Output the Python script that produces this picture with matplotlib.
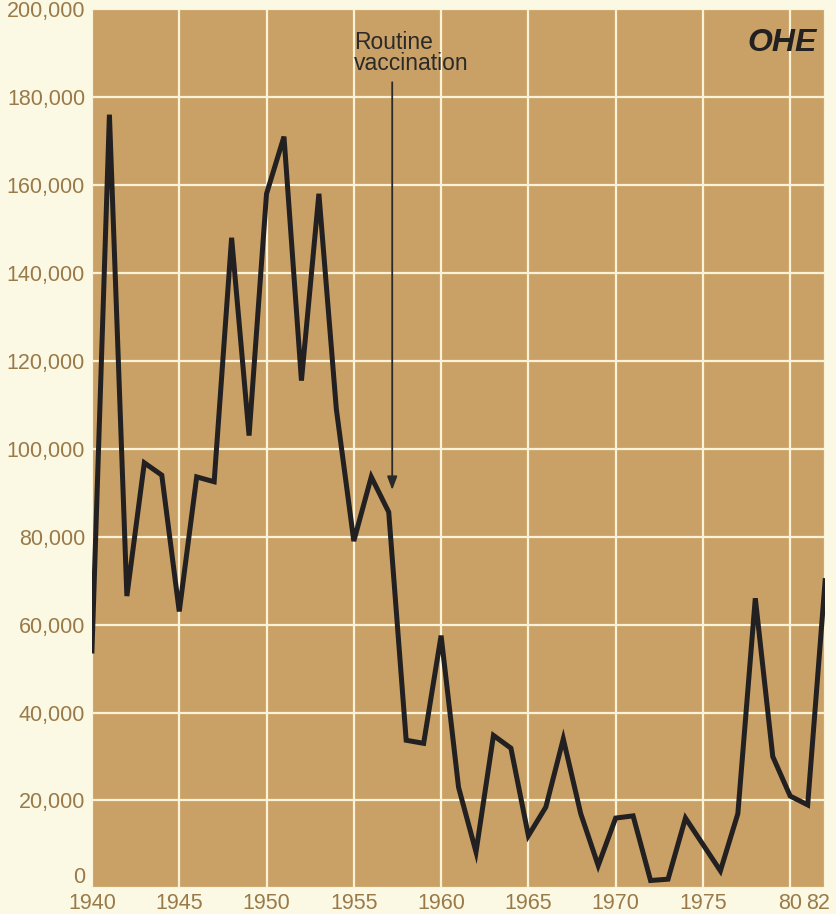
import matplotlib.pyplot as plt
import matplotlib.transforms as mtransforms
from matplotlib.ticker import FuncFormatter

years = list(range(1940, 1983))
cases = [
    54000, 176000, 66500, 96800, 94000, 63000, 93600, 92500, 148000, 103000,
    158000, 171000, 115500, 158000, 109000, 79000, 93600, 85600, 33700, 33000,
    57500, 23000, 8300, 34800, 31900, 12000, 18500, 34000, 17000, 5200,
    16000, 16500, 1800, 2100, 16000, 10000, 4000, 17000, 66000, 30000,
    21000, 19000, 70000,
]

x_ticks = [1940, 1945, 1950, 1955, 1960, 1965, 1970, 1975, 1980, 1982]
x_labels = ["1940", "1945", "1950", "1955", "1960", "1965", "1970", "1975", "80", "82"]
y_ticks = list(range(0, 200001, 20000))

paper = "#fbf8e4"
tan = "#c9a066"
label_col = "#9a7a48"

plt.rcParams["font.family"] = ["Liberation Sans", "DejaVu Sans"]

fig = plt.figure(figsize=(8.36, 9.14), dpi=100, facecolor=paper)
ax = fig.add_axes([0.110, 0.028, 0.877, 0.962])
ax.set_facecolor(tan)

ax.plot(years, cases, color="#222020", lw=3.6, solid_joinstyle="miter", zorder=3)

ax.set_xlim(1940, 1982)
ax.set_ylim(0, 200000)
ax.set_xticks(x_ticks)
ax.set_xticklabels(x_labels)
ax.set_yticks(y_ticks)
ax.yaxis.set_major_formatter(FuncFormatter(lambda v, p: f"{int(v):,}"))

ax.grid(True, color="#fbf3d8", lw=1.6, zorder=1)
ax.tick_params(axis="y", length=0, labelsize=15.5, colors=label_col, pad=5)
ax.tick_params(axis="x", length=0, labelsize=15.5, colors=label_col, pad=3)
for s in ax.spines.values():
    s.set_visible(False)

fig.canvas.draw()
ax.get_yticklabels()[0].set_va("bottom")
# nudge the last "82" label a little left, like the original
lab = ax.get_xticklabels()[-1]
lab.set_transform(lab.get_transform() + mtransforms.ScaledTranslation(-0.07, 0, fig.dpi_scale_trans))

# annotation
ax.annotate("", xy=(1957.2, 90000), xytext=(1957.2, 184000),
            arrowprops=dict(arrowstyle="-|>,head_length=0.8,head_width=0.3",
                            color="#2a2a2a", lw=1.3), zorder=4)
ax.text(1955.0, 195000, "Routine\nvaccination", fontsize=16.5, color="#2a2a2a",
        va="top", ha="left", linespacing=0.9, zorder=4)

ax.text(0.988, 0.978, "OHE", transform=ax.transAxes, fontsize=23,
        fontweight="bold", fontstyle="italic", color="#222020",
        ha="right", va="top", zorder=4)

fig.savefig("out.png", dpi=100, facecolor=paper)
